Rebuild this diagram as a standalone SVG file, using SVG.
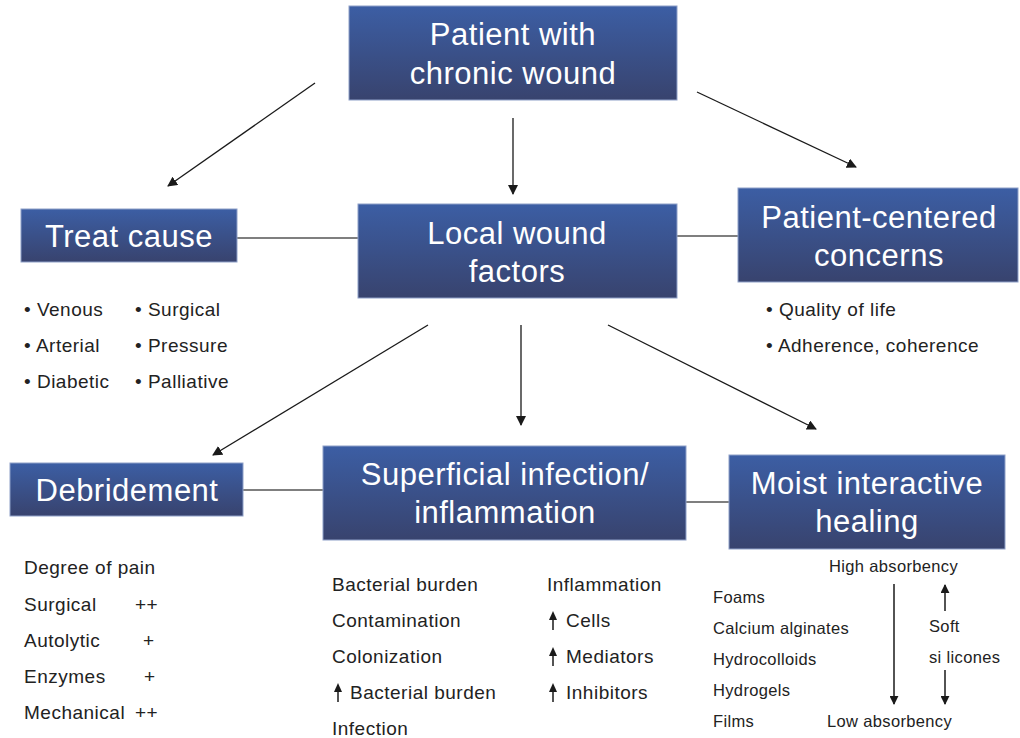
<svg xmlns="http://www.w3.org/2000/svg" width="1020" height="738" viewBox="0 0 1020 738">
<defs>
<linearGradient id="g" x1="0" y1="0" x2="0" y2="1">
<stop offset="0" stop-color="#3c5ea4"/>
<stop offset="1" stop-color="#38436e"/>
</linearGradient>
<marker id="ah" viewBox="0 0 10 10" refX="9" refY="5" markerWidth="10" markerHeight="10" markerUnits="userSpaceOnUse" orient="auto">
<path d="M0,0 L10,5 L0,10 z" fill="#1a1a1a"/>
</marker>
<marker id="sa" viewBox="0 0 10 10" refX="9" refY="5" markerWidth="9" markerHeight="9" markerUnits="userSpaceOnUse" orient="auto">
<path d="M0,0 L10,5 L0,10 z" fill="#1a1a1a"/>
</marker>
</defs>
<style>
.box{fill:url(#g);stroke:#8ea0c8;stroke-width:1}
.nt{font-family:"Liberation Sans",Arial,sans-serif;font-size:31px;letter-spacing:0.5px;fill:#fff;text-anchor:middle}
.t{font-family:"Liberation Sans",Arial,sans-serif;font-size:19px;letter-spacing:0.5px;fill:#222}
.s{font-family:"Liberation Sans",Arial,sans-serif;font-size:16.5px;letter-spacing:0.35px;fill:#222}
.c{stroke:#1a1a1a;stroke-width:1.3;fill:none}
.ln{stroke:#555;stroke-width:1.5;fill:none}
.ua{stroke:#1a1a1a;stroke-width:1.5;fill:none}
</style>
<rect width="1020" height="738" fill="#fff"/>
<g id="connectors">
<line class="c" x1="315" y1="83" x2="168" y2="186" marker-end="url(#ah)"/>
<line class="c" x1="513" y1="118" x2="513" y2="194" marker-end="url(#ah)"/>
<line class="c" x1="697" y1="92" x2="856" y2="167" marker-end="url(#ah)"/>
<line class="ln" x1="237" y1="238" x2="358" y2="238"/>
<line class="ln" x1="677" y1="236" x2="738" y2="236"/>
<line class="c" x1="428" y1="325" x2="213" y2="455" marker-end="url(#ah)"/>
<line class="c" x1="521" y1="325" x2="521" y2="425" marker-end="url(#ah)"/>
<line class="c" x1="608" y1="325" x2="816" y2="429" marker-end="url(#ah)"/>
<line class="ln" x1="243" y1="490" x2="323" y2="490"/>
<line class="ln" x1="686" y1="502" x2="729" y2="502"/>
</g>
<g id="patient">
<rect class="box" x="349" y="6" width="328" height="94"/>
<text class="nt" x="513" y="45">Patient with</text>
<text class="nt" x="513" y="84">chronic wound</text>
</g>
<g id="treat-cause">
<rect class="box" x="21" y="209" width="216" height="53"/>
<text class="nt" x="129" y="247">Treat cause</text>
</g>
<g id="local-wound">
<rect class="box" x="358" y="204" width="319" height="94"/>
<text class="nt" x="517" y="244">Local wound</text>
<text class="nt" x="517" y="282">factors</text>
</g>
<g id="patient-centered">
<rect class="box" x="738" y="188" width="280" height="94"/>
<text class="nt" x="879" y="228">Patient-centered</text>
<text class="nt" x="879" y="266">concerns</text>
</g>
<g id="debridement">
<rect class="box" x="10" y="463" width="233" height="53"/>
<text class="nt" x="127" y="501">Debridement</text>
</g>
<g id="superficial">
<rect class="box" x="323" y="446" width="363" height="94"/>
<text class="nt" x="505" y="485">Superficial infection/</text>
<text class="nt" x="505" y="523">inflammation</text>
</g>
<g id="moist">
<rect class="box" x="729" y="455" width="276" height="94"/>
<text class="nt" x="867" y="494">Moist interactive</text>
<text class="nt" x="867" y="532">healing</text>
</g>
<g id="cause-list">
<text class="t" x="24" y="316">• Venous</text>
<text class="t" x="24" y="352">• Arterial</text>
<text class="t" x="24" y="388">• Diabetic</text>
<text class="t" x="135" y="316">• Surgical</text>
<text class="t" x="135" y="352">• Pressure</text>
<text class="t" x="135" y="388">• Palliative</text>
</g>
<g id="concerns-list">
<text class="t" x="766" y="316">• Quality of life</text>
<text class="t" x="766" y="352">• Adherence, coherence</text>
</g>
<g id="debridement-list">
<text class="t" x="24" y="574">Degree of pain</text>
<text class="t" x="24" y="611">Surgical</text>
<text class="t" x="135" y="611">++</text>
<text class="t" x="24" y="647">Autolytic</text>
<text class="t" x="143" y="647">+</text>
<text class="t" x="24" y="683">Enzymes</text>
<text class="t" x="144" y="683">+</text>
<text class="t" x="24" y="719">Mechanical</text>
<text class="t" x="135" y="719">++</text>
</g>
<g id="infection-list">
<text class="t" x="332" y="591">Bacterial burden</text>
<text class="t" x="332" y="627">Contamination</text>
<text class="t" x="332" y="663">Colonization</text>
<path class="ua" d="M338,702 V690"/><path d="M334,692 L338,683 L342,692 z" fill="#1a1a1a"/>
<text class="t" x="350" y="699">Bacterial burden</text>
<text class="t" x="332" y="735">Infection</text>
<text class="t" x="547" y="591">Inflammation</text>
<path class="ua" d="M553,630 V618"/><path d="M549,620 L553,611 L557,620 z" fill="#1a1a1a"/>
<text class="t" x="566" y="627">Cells</text>
<path class="ua" d="M553,666 V654"/><path d="M549,656 L553,647 L557,656 z" fill="#1a1a1a"/>
<text class="t" x="566" y="663">Mediators</text>
<path class="ua" d="M553,702 V690"/><path d="M549,692 L553,683 L557,692 z" fill="#1a1a1a"/>
<text class="t" x="566" y="699">Inhibitors</text>
</g>
<g id="dressings-list">
<text class="s" x="829" y="572">High absorbency</text>
<text class="s" x="713" y="603">Foams</text>
<text class="s" x="713" y="634">Calcium alginates</text>
<text class="s" x="713" y="665">Hydrocolloids</text>
<text class="s" x="713" y="696">Hydrogels</text>
<text class="s" x="713" y="727">Films</text>
<text class="s" x="827" y="727">Low absorbency</text>
<text class="s" x="929" y="632">Soft</text>
<text class="s" x="929" y="663">si licones</text>
<line class="ua" x1="894" y1="584" x2="894" y2="704" marker-end="url(#sa)"/>
<line class="ua" x1="945" y1="611" x2="945" y2="585" marker-end="url(#sa)"/>
<line class="ua" x1="945" y1="670" x2="945" y2="704" marker-end="url(#sa)"/>
</g>
</svg>
